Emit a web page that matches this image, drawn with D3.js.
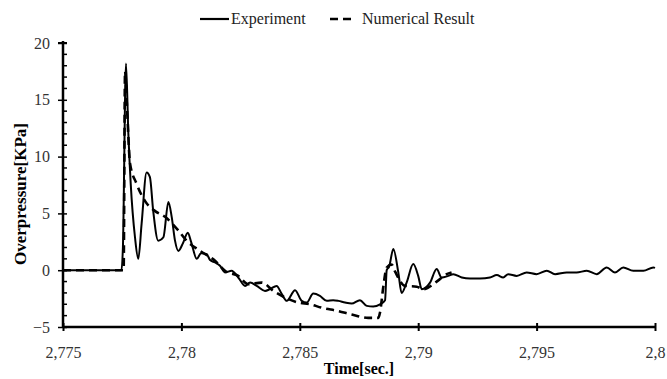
<!DOCTYPE html>
<html><head><meta charset="utf-8">
<script src="https://cdn.jsdelivr.net/npm/d3@7"></script>
<style>body{margin:0;background:#fff}svg{display:block}</style>
</head><body><svg id="c" width="667" height="379"></svg>
<script>
const xTicks = [2.775, 2.78, 2.785, 2.79, 2.795, 2.8];
const xTickLabels = ["2,775", "2,78", "2,785", "2,79", "2,795", "2,8"];
const yTicks = [-5, 0, 5, 10, 15, 20];
const seriesNames = ["Experiment", "Numerical Result"];

const expTime = [2.775,2.77747,2.77753,2.77766,2.77776,2.77786,2.77804,2.77818,2.77832,2.77853,2.77867,2.77881,2.77902,2.77924,2.77945,2.77959,2.77973,2.77987,2.78007,2.78027,2.78041,2.78065,2.78083,2.78107,2.78121,2.78142,2.78163,2.78184,2.78212,2.78240,2.78269,2.78290,2.78318,2.78353,2.78374,2.78402,2.78424,2.78445,2.78480,2.78508,2.78529,2.78557,2.78585,2.78614,2.78641,2.78663,2.78691,2.78719,2.78754,2.78783,2.78810,2.78839,2.78860,2.78867,2.78877,2.78895,2.78916,2.78930,2.78951,2.78979,2.79000,2.79015,2.79050,2.79078,2.79099,2.79127,2.79148,2.79184,2.79219,2.79261,2.79303,2.79332,2.79359,2.79380,2.79416,2.79458,2.79500,2.79543,2.79578,2.79627,2.79669,2.79712,2.79754,2.79796,2.79831,2.79866,2.79908,2.79951,2.79993,2.8];
const expValue = [0,0,2.0,18.2,12.0,7.6,2.9,1.0,4.1,8.6,8.2,5.2,2.6,2.9,6.0,4.7,2.6,1.7,2.4,3.3,2.5,1.0,1.5,1.4,0.9,0.68,0.39,-0.2,-0.05,-0.64,-1.38,-1.09,-1.38,-1.82,-1.67,-1.38,-2.1,-2.7,-1.76,-2.7,-2.85,-2.06,-2.26,-2.7,-2.64,-2.7,-2.85,-2.94,-2.64,-3.14,-3.2,-3.0,-2.64,0.0,0.3,1.86,-0.2,-2.0,-1.09,0.54,-0.5,-1.67,-1.09,0.1,-0.64,-0.5,-0.35,-0.64,-0.73,-0.73,-0.64,-0.43,-0.64,-0.35,-0.5,-0.2,-0.35,-0.05,-0.35,-0.2,-0.2,-0.05,-0.35,0.24,-0.2,0.24,-0.05,-0.05,0.24,0.2];

const numTime = [2.775,2.77756,2.77762,2.77771,2.77783,2.77811,2.77846,2.77889,2.77931,2.77987,2.78022,2.78079,2.78142,2.78184,2.78240,2.78283,2.78339,2.78388,2.78438,2.78494,2.78543,2.78592,2.78663,2.78719,2.78789,2.78832,2.78839,2.78853,2.78867,2.78888,2.78902,2.78944,2.78994,2.79022,2.79078,2.79120,2.79141];
const numValue = [0,0,17.5,14.0,9.4,7.6,6.1,5.2,4.7,3.5,2.6,1.7,0.83,-0.05,-0.5,-1.23,-1.09,-1.82,-2.41,-2.85,-3.0,-3.3,-3.6,-3.9,-4.2,-4.2,-3.7,-1.4,0.24,0.5,-0.1,-1.38,-1.45,-1.67,-1.0,-0.35,-0.2];

const svg = d3.select("#c");
const L = 63, R = 655, T = 43, B = 327;
const x = d3.scaleLinear().domain([2.775, 2.8]).range([L, R]);
const y = d3.scaleLinear().domain([-5, 20]).range([B, T]);
const serif = "'Liberation Serif','Times New Roman',serif";

// minor y ticks
const minor = d3.range(-5, 21, 1).filter(v => v % 5 !== 0);
svg.append("g").selectAll("line").data(minor).join("line")
  .attr("x1", L).attr("x2", L + 4).attr("y1", d => y(d)).attr("y2", d => y(d))
  .attr("stroke", "#000").attr("stroke-width", 1.5);

// y axis
const yAxis = svg.append("g").attr("transform", `translate(${L},0)`)
  .call(d3.axisLeft(y).tickValues(yTicks).tickSize(5).tickPadding(8).tickFormat(d3.format("d")));
yAxis.attr("font-family", null).attr("font-size", null);
yAxis.select(".domain").remove();
yAxis.selectAll(".tick line").attr("x2", -5).attr("x1", 4).attr("stroke-width", 1.5);
yAxis.selectAll("text").style("font-family", serif).style("font-size", "16px").attr("fill", "#333");

// x axis
const xAxis = svg.append("g").attr("transform", `translate(0,${B})`)
  .call(d3.axisBottom(x).tickValues(xTicks).tickSize(4).tickPadding(16).tickFormat((d, i) => xTickLabels[i]));
xAxis.attr("font-family", null).attr("font-size", null);
xAxis.select(".domain").remove();
xAxis.selectAll(".tick line").attr("y1", -4).attr("y2", 4).attr("stroke-width", 2);
xAxis.selectAll("text").style("font-family", serif).style("font-size", "16px").attr("fill", "#333");

// axis lines
svg.append("line").attr("x1", L).attr("x2", L).attr("y1", T - 2).attr("y2", B)
  .attr("stroke", "#000").attr("stroke-width", 2.5);
svg.append("line").attr("x1", L).attr("x2", R).attr("y1", B).attr("y2", B)
  .attr("stroke", "#000").attr("stroke-width", 2.5);
svg.append("line").attr("x1", L - 5).attr("x2", L + 4).attr("y1", y(20)).attr("y2", y(20))
  .attr("stroke", "#000").attr("stroke-width", 2);

const line = d3.line().x(d => x(d[0])).y(d => y(d[1])).curve(d3.curveMonotoneX);
const expData = expTime.map((t, i) => [t, expValue[i]]);
const numData = numTime.map((t, i) => [t, numValue[i]]);

svg.append("path").datum(numData).attr("d", line).attr("fill", "none")
  .attr("stroke", "#000").attr("stroke-width", 2.6).attr("stroke-dasharray", "8,5");
svg.append("path").datum(expData).attr("d", line).attr("fill", "none")
  .attr("stroke", "#000").attr("stroke-width", 2);

// legend
const lg = svg.append("g");
lg.append("line").attr("x1", 200).attr("x2", 229).attr("y1", 19).attr("y2", 19)
  .attr("stroke", "#000").attr("stroke-width", 2.2);
lg.append("text").attr("x", 231).attr("y", 24).text(seriesNames[0])
  .style("font-family", serif).style("font-size", "16px").attr("fill", "#222");
lg.append("line").attr("x1", 330).attr("x2", 356).attr("y1", 19).attr("y2", 19)
  .attr("stroke", "#000").attr("stroke-width", 2.6).attr("stroke-dasharray", "8,5");
lg.append("text").attr("x", 362).attr("y", 24).text(seriesNames[1])
  .style("font-family", serif).style("font-size", "16px").attr("fill", "#222");

// titles
svg.append("text").attr("x", 359).attr("y", 374).attr("text-anchor", "middle")
  .style("font-family", serif).style("font-weight", "bold").style("font-size", "16px").text("Time[sec.]");
svg.append("text").attr("transform", "translate(26,194) rotate(-90)").attr("text-anchor", "middle")
  .style("font-family", serif).style("font-weight", "bold").style("font-size", "17px").text("Overpressure[KPa]");
</script></body></html>
